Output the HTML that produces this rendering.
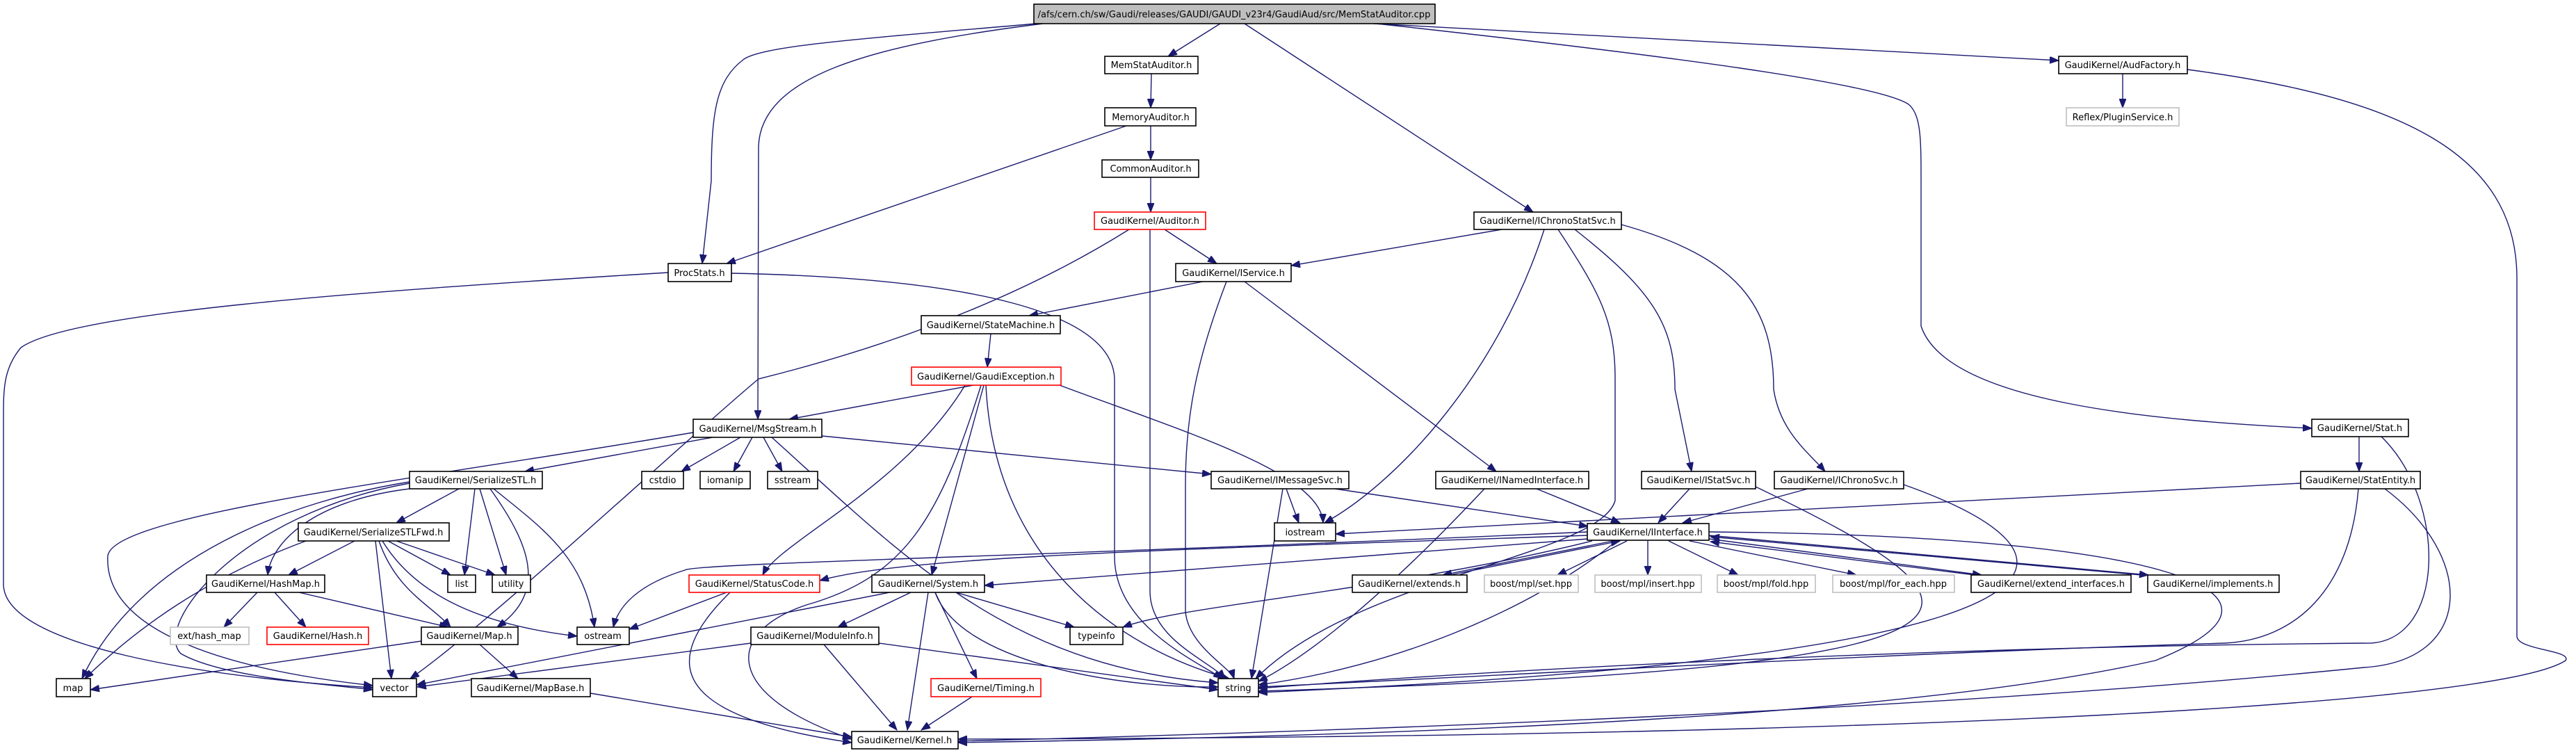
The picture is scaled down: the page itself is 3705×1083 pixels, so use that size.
<!DOCTYPE html>
<html><head><meta charset="utf-8"><style>
html,body{margin:0;padding:0;background:#fff;}
svg{display:block;}
.n rect{fill:#fff;stroke:#000;stroke-width:1.6;}
.r rect{fill:#fff;stroke:#ff0000;stroke-width:1.6;}
.g rect{fill:#fff;stroke:#bfbfbf;stroke-width:1.6;}
text{font-family:"DejaVu Sans","Liberation Sans",sans-serif;font-size:13px;fill:#000;text-anchor:middle;}
.e path{fill:none;stroke:#191970;stroke-width:1.4;marker-end:url(#a);}
</style></head><body>
<svg width="3705" height="1083" viewBox="0 0 3705 1083" xmlns="http://www.w3.org/2000/svg">
<defs><marker id="a" markerUnits="userSpaceOnUse" markerWidth="14" markerHeight="10" refX="13" refY="5" orient="auto"><path d="M0,0 L13,5 L0,10 z" fill="#191970" stroke="#191970"/></marker></defs>
<g class="e">
<path d="M1490,34 C1250,55 1100,65 1070,85 C1030,115 1023,160 1023,260 L1010,379"/>
<path d="M1500,34 C1250,65 1095,110 1091,210 L1090,603"/>
<path d="M961,392 C500,420 100,450 30,500 C5,530 5,560 5,600 L5,840 C5,930 300,975 536,989"/>
<path d="M1755,34 L1680,81"/>
<path d="M1790,34 L2205,305"/>
<path d="M1980,34 C2400,80 2700,120 2745,150 C2763,165 2763,200 2763,260 L2763,469 C2800,580 3100,605 3325,616"/>
<path d="M1975,34 L2961,87"/>
<path d="M1656,106 L1655,155"/>
<path d="M1655,181 L1655,230"/>
<path d="M1620,181 L1045,379"/>
<path d="M1655,255 L1655,305"/>
<path d="M1675,330 L1750,379"/>
<path d="M1654,330 L1654,850 C1654,920 1740,950 1762,976"/>
<path d="M1624,330 C1400,470 1150,530 1091,545 C1000,620 700,900 590,976"/>
<path d="M3053,106 L3053,155"/>
<path d="M3146,100 C3450,140 3620,220 3620,400 L3620,915 C3620,935 3700,935 3690,950 C3600,1010 2800,1060 1378,1063"/>
<path d="M1052,393 C1400,400 1600,450 1603,545 L1603,800 C1603,900 1720,950 1758,976"/>
<path d="M2160,330 L1857,382"/>
<path d="M2221,330 C2150,550 2000,700 1905,752"/>
<path d="M2241,330 C2300,420 2323,460 2323,545 L2323,720 C2300,800 1950,830 1806,976"/>
<path d="M2265,330 C2380,420 2409,470 2409,560 L2433,678"/>
<path d="M2332,323 C2500,370 2551,440 2551,560 C2560,620 2600,650 2625,678"/>
<path d="M1730,405 L1480,454"/>
<path d="M1764,405 C1720,520 1705,600 1705,700 L1705,880 C1710,930 1770,960 1775,976"/>
<path d="M1790,405 L2152,678"/>
<path d="M1425,480 L1420,528"/>
<path d="M1400,554 L1135,603"/>
<path d="M1388,554 C1300,700 1120,780 1097,827"/>
<path d="M1415,554 L1340,827"/>
<path d="M1411,554 C1350,750 1300,830 1160,870 C1040,910 1040,1000 1225,1063"/>
<path d="M1418,554 C1430,800 1600,930 1768,976"/>
<path d="M1524,554 C1700,620 1900,680 1903,752"/>
<path d="M1025,629 L755,678"/>
<path d="M1065,629 L980,678"/>
<path d="M1082,629 L1055,678"/>
<path d="M1098,629 L1125,678"/>
<path d="M1182,627 L1742,682"/>
<path d="M1110,629 C1300,800 1450,960 1752,982"/>
<path d="M997,622 C600,690 160,740 155,800 C150,900 300,960 536,986"/>
<path d="M660,703 L570,752"/>
<path d="M683,703 L668,827"/>
<path d="M690,703 L728,827"/>
<path d="M710,703 C780,760 840,800 855,902"/>
<path d="M705,703 C760,780 790,850 715,902"/>
<path d="M589,703 C450,720 390,780 385,827"/>
<path d="M589,695 C340,740 220,900 260,940 C320,975 480,985 536,992"/>
<path d="M589,693 C420,720 200,800 118,976"/>
<path d="M510,778 L415,827"/>
<path d="M545,778 C570,850 620,870 648,902"/>
<path d="M558,778 L648,827"/>
<path d="M570,778 L712,827"/>
<path d="M540,778 L563,976"/>
<path d="M550,778 C600,860 700,900 830,915"/>
<path d="M440,778 C300,830 200,900 122,976"/>
<path d="M370,852 L322,902"/>
<path d="M395,852 L440,902"/>
<path d="M430,852 L645,902"/>
<path d="M606,922 L130,992"/>
<path d="M690,927 L745,976"/>
<path d="M849,997 L1225,1060"/>
<path d="M1045,852 L905,905"/>
<path d="M1050,852 C950,950 960,1030 1225,1068"/>
<path d="M1310,852 L1205,902"/>
<path d="M1375,852 L1545,902"/>
<path d="M1345,852 C1380,950 1600,990 1752,988"/>
<path d="M1335,852 L1305,1050"/>
<path d="M1345,852 L1405,976"/>
<path d="M1280,852 L599,985"/>
<path d="M1264,925 L1752,992"/>
<path d="M1185,927 L1290,1050"/>
<path d="M1080,925 L600,988"/>
<path d="M1398,1002 L1325,1050"/>
<path d="M1850,703 L1868,752"/>
<path d="M1845,703 L1800,976"/>
<path d="M1920,703 L2284,757"/>
<path d="M2210,703 L2330,752"/>
<path d="M2135,703 C1950,900 1850,960 1810,980"/>
<path d="M2430,703 L2385,752"/>
<path d="M2525,700 C2900,880 2950,960 1810,994"/>
<path d="M2600,703 L2420,752"/>
<path d="M2738,697 C3000,790 3100,940 1810,996"/>
<path d="M3393,628 L3393,678"/>
<path d="M3425,628 C3520,720 3520,930 3400,925 C2800,930 2200,960 1810,990"/>
<path d="M3309,695 L1921,768"/>
<path d="M3392,703 C3380,850 3300,920 3200,925 C2700,940 2200,970 1810,988"/>
<path d="M3430,703 C3560,800 3560,950 3400,960 C2800,1020 2000,1050 1378,1066"/>
<path d="M2284,770 C1700,790 1300,800 1179,835"/>
<path d="M2284,775 L1416,842"/>
<path d="M2284,765 C1500,800 1000,810 985,820 C920,840 890,870 882,902"/>
<path d="M2290,778 C2000,850 1700,870 1615,902"/>
<path d="M2325,778 C2200,880 2000,960 1810,985"/>
<path d="M2458,765 C3100,770 3350,850 3100,950 C2700,1040 1900,1060 1378,1068"/>
<path d="M2320,778 L2075,827"/>
<path d="M2340,778 L2240,827"/>
<path d="M2370,778 L2370,827"/>
<path d="M2400,778 L2500,827"/>
<path d="M2430,778 L2670,827"/>
<path d="M2458,775 L2850,827"/>
<path d="M2458,770 L3090,827"/>
<path d="M2085,827 L2330,778"/>
<path d="M2840,827 L2460,779"/>
<path d="M3080,827 L2460,772"/>
</g>
<g class="n"><rect x="1487" y="6" width="577" height="28" style="fill:#bfbfbf"/><text x="1775" y="25">/afs/cern.ch/sw/Gaudi/releases/GAUDI/GAUDI_v23r4/GaudiAud/src/MemStatAuditor.cpp</text></g>
<g class="n"><rect x="1589" y="81" width="134" height="25"/><text x="1656" y="98">MemStatAuditor.h</text></g>
<g class="n"><rect x="1589" y="155" width="131" height="26"/><text x="1655" y="173">MemoryAuditor.h</text></g>
<g class="n"><rect x="1585" y="230" width="139" height="25"/><text x="1655" y="247">CommonAuditor.h</text></g>
<g class="r"><rect x="1574" y="305" width="160" height="25"/><text x="1654" y="322">GaudiKernel/Auditor.h</text></g>
<g class="n"><rect x="2961" y="81" width="185" height="25"/><text x="3053" y="98">GaudiKernel/AudFactory.h</text></g>
<g class="g"><rect x="2972" y="155" width="162" height="26"/><text x="3053" y="173">Reflex/PluginService.h</text></g>
<g class="n"><rect x="961" y="379" width="91" height="26"/><text x="1006" y="397">ProcStats.h</text></g>
<g class="n"><rect x="2120" y="305" width="212" height="25"/><text x="2226" y="322">GaudiKernel/IChronoStatSvc.h</text></g>
<g class="n"><rect x="1691" y="379" width="166" height="26"/><text x="1774" y="397">GaudiKernel/IService.h</text></g>
<g class="n"><rect x="1325" y="454" width="200" height="26"/><text x="1425" y="472">GaudiKernel/StateMachine.h</text></g>
<g class="r"><rect x="1311" y="528" width="215" height="26"/><text x="1418" y="546">GaudiKernel/GaudiException.h</text></g>
<g class="n"><rect x="997" y="603" width="185" height="26"/><text x="1090" y="621">GaudiKernel/MsgStream.h</text></g>
<g class="n"><rect x="3325" y="603" width="139" height="25"/><text x="3394" y="620">GaudiKernel/Stat.h</text></g>
<g class="n"><rect x="589" y="678" width="191" height="25"/><text x="684" y="695">GaudiKernel/SerializeSTL.h</text></g>
<g class="n"><rect x="923" y="678" width="60" height="25"/><text x="953" y="695">cstdio</text></g>
<g class="n"><rect x="1007" y="678" width="72" height="25"/><text x="1043" y="695">iomanip</text></g>
<g class="n"><rect x="1104" y="678" width="72" height="25"/><text x="1140" y="695">sstream</text></g>
<g class="n"><rect x="1742" y="678" width="198" height="25"/><text x="1841" y="695">GaudiKernel/IMessageSvc.h</text></g>
<g class="n"><rect x="2065" y="678" width="220" height="25"/><text x="2175" y="695">GaudiKernel/INamedInterface.h</text></g>
<g class="n"><rect x="2361" y="678" width="164" height="25"/><text x="2443" y="695">GaudiKernel/IStatSvc.h</text></g>
<g class="n"><rect x="2552" y="678" width="186" height="25"/><text x="2645" y="695">GaudiKernel/IChronoSvc.h</text></g>
<g class="n"><rect x="3309" y="678" width="172" height="25"/><text x="3395" y="695">GaudiKernel/StatEntity.h</text></g>
<g class="n"><rect x="429" y="752" width="217" height="26"/><text x="537" y="770">GaudiKernel/SerializeSTLFwd.h</text></g>
<g class="n"><rect x="1833" y="752" width="88" height="26"/><text x="1877" y="770">iostream</text></g>
<g class="n"><rect x="2283" y="753" width="175" height="24"/><text x="2370" y="770">GaudiKernel/IInterface.h</text></g>
<g class="n"><rect x="297" y="827" width="170" height="25"/><text x="382" y="844">GaudiKernel/HashMap.h</text></g>
<g class="n"><rect x="644" y="827" width="40" height="25"/><text x="664" y="844">list</text></g>
<g class="n"><rect x="708" y="827" width="55" height="25"/><text x="735" y="844">utility</text></g>
<g class="r"><rect x="991" y="827" width="188" height="25"/><text x="1085" y="844">GaudiKernel/StatusCode.h</text></g>
<g class="n"><rect x="1254" y="827" width="162" height="25"/><text x="1335" y="844">GaudiKernel/System.h</text></g>
<g class="n"><rect x="1945" y="827" width="165" height="25"/><text x="2027" y="844">GaudiKernel/extends.h</text></g>
<g class="g"><rect x="2135" y="827" width="135" height="25"/><text x="2202" y="844">boost/mpl/set.hpp</text></g>
<g class="g"><rect x="2294" y="827" width="153" height="25"/><text x="2370" y="844">boost/mpl/insert.hpp</text></g>
<g class="g"><rect x="2470" y="827" width="141" height="25"/><text x="2540" y="844">boost/mpl/fold.hpp</text></g>
<g class="g"><rect x="2636" y="827" width="175" height="25"/><text x="2723" y="844">boost/mpl/for_each.hpp</text></g>
<g class="n"><rect x="2835" y="827" width="230" height="25"/><text x="2950" y="844">GaudiKernel/extend_interfaces.h</text></g>
<g class="n"><rect x="3089" y="827" width="189" height="25"/><text x="3183" y="844">GaudiKernel/implements.h</text></g>
<g class="g"><rect x="245" y="902" width="113" height="25"/><text x="301" y="919">ext/hash_map</text></g>
<g class="r"><rect x="384" y="902" width="146" height="25"/><text x="457" y="919">GaudiKernel/Hash.h</text></g>
<g class="n"><rect x="606" y="902" width="139" height="25"/><text x="675" y="919">GaudiKernel/Map.h</text></g>
<g class="n"><rect x="830" y="902" width="75" height="25"/><text x="867" y="919">ostream</text></g>
<g class="n"><rect x="1080" y="902" width="184" height="25"/><text x="1172" y="919">GaudiKernel/ModuleInfo.h</text></g>
<g class="n"><rect x="1539" y="902" width="76" height="25"/><text x="1577" y="919">typeinfo</text></g>
<g class="n"><rect x="81" y="976" width="49" height="26"/><text x="105" y="994">map</text></g>
<g class="n"><rect x="536" y="976" width="63" height="26"/><text x="567" y="994">vector</text></g>
<g class="n"><rect x="678" y="976" width="171" height="26"/><text x="763" y="994">GaudiKernel/MapBase.h</text></g>
<g class="r"><rect x="1339" y="976" width="158" height="26"/><text x="1418" y="994">GaudiKernel/Timing.h</text></g>
<g class="n"><rect x="1752" y="976" width="58" height="26"/><text x="1781" y="994">string</text></g>
<g class="n"><rect x="1225" y="1052" width="153" height="25"/><text x="1301" y="1069">GaudiKernel/Kernel.h</text></g>
</svg>
</body></html>
